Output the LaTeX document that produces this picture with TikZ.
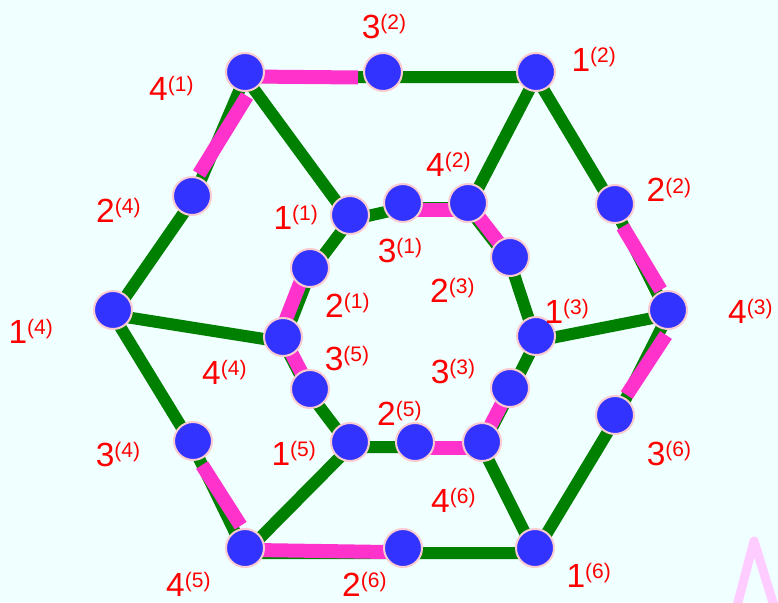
\documentclass[tikz,border=0pt]{standalone}
\usepackage{fontspec}
\setmainfont{Liberation Sans}
\definecolor{bgc}{RGB}{240,255,255}
\definecolor{grc}{RGB}{0,128,0}
\definecolor{mgc}{RGB}{255,51,204}
\definecolor{nbc}{RGB}{51,51,255}
\definecolor{ndc}{RGB}{250,204,210}
\definecolor{lbc}{RGB}{255,0,0}
\definecolor{lpc}{RGB}{255,204,255}
\newcommand{\lbl}[2]{{\fontsize{33.5}{40}\selectfont #1\raisebox{8.5pt}{\fontsize{21}{25}\selectfont(#2)}}}
\begin{document}
\begin{tikzpicture}[x=1pt,y=-1pt,
  vtx/.style={circle,fill=nbc,draw=ndc,line width=2pt,minimum size=38pt,inner sep=0pt},
  gedge/.style={draw=grc,line width=12pt,line join=round},
  medge/.style={draw=mgc,line width=14pt},
  lbltext/.style={text=lbc,anchor=base west,inner sep=0pt}]
\fill[bgc] (0,0) rectangle (778,602);
\useasboundingbox (0,0) rectangle (778,602);

% vertex positions
\coordinate (A) at (245,72);  \coordinate (tm) at (383,72);  \coordinate (B) at (536,72);
\coordinate (urm) at (615,204); \coordinate (C) at (668,310); \coordinate (lrm) at (615,415);
\coordinate (D) at (535,548); \coordinate (bm) at (403,548); \coordinate (E) at (245,548);
\coordinate (llm) at (193,441); \coordinate (F) at (113,310); \coordinate (ulm) at (192,196);
\coordinate (I1) at (350,215); \coordinate (tmi) at (403,203); \coordinate (I2) at (468,203);
\coordinate (iur) at (510,257); \coordinate (I3) at (536,336); \coordinate (irl) at (510,388);
\coordinate (I4) at (482,442); \coordinate (bmi) at (415,442); \coordinate (I5) at (350,442);
\coordinate (ill) at (310,389); \coordinate (I6) at (283,337); \coordinate (iul) at (310,268);

% green edges
\begin{scope}[transform canvas={yshift=-5pt}]
\draw[gedge] (A) -- (tm) -- (B) -- (urm) -- (C) -- (lrm) -- (D) -- (bm) -- (E) -- (llm) -- (F) -- (ulm) -- cycle;
\draw[gedge] (I1) -- (tmi) -- (I2) -- (iur) -- (I3) -- (irl) -- (I4) -- (bmi) -- (I5) -- (ill) -- (I6) -- (iul) -- cycle;
\draw[gedge] (A) -- (I1);
\draw[gedge] (B) -- (I2);
\draw[gedge] (C) -- (I3);
\draw[gedge] (D) -- (I4);
\draw[gedge] (E) -- (I5);
\draw[gedge] (F) -- (I6);
\end{scope}

% magenta overlays
\coordinate (m1a) at (250,76.5);  \coordinate (m1b) at (358,77.5);
\coordinate (m2a) at (247,96);    \coordinate (m2b) at (199,174);
\coordinate (m3a) at (622.7,226.7); \coordinate (m3b) at (660.7,290);
\coordinate (m4a) at (666,335);   \coordinate (m4b) at (626.7,395);
\coordinate (m5a) at (255,550);   \coordinate (m5b) at (388,552);
\coordinate (m6a) at (202,465);   \coordinate (m6b) at (240.7,525.7);
\coordinate (m7a) at (410,210);   \coordinate (m7b) at (460,210);
\coordinate (m10a) at (420,448);  \coordinate (m10b) at (475,448);
\coordinate (m12a) at (279,337);  \coordinate (m12b) at (306,268);
\draw[medge] (m1a) -- (m1b);
\draw[medge] (m2a) -- (m2b);
\draw[medge] (m3a) -- (m3b);
\draw[medge] (m4a) -- (m4b);
\draw[medge] (m5a) -- (m5b);
\draw[medge] (m6a) -- (m6b);
\draw[medge] (m7a) -- (m7b);
\draw[medge] (I2) -- (iur);
\draw[medge] (irl) -- (I4);
\draw[medge] (m10a) -- (m10b);
\draw[medge] (ill) -- (I6);
\draw[medge] (m12a) -- (m12b);

% nodes
\foreach \n in {A,tm,B,urm,C,lrm,D,bm,E,llm,F,ulm,I1,tmi,I2,iur,I3,irl,I4,bmi,I5,ill,I6,iul}
  \node[vtx] (n\n) at (\n) {};

% labels
\node[lbltext] (l32) at (361.6,38) {\lbl{3}{2}};
\node[lbltext] (l41) at (149,100) {\lbl{4}{1}};
\node[lbltext] (l12) at (571.4,71) {\lbl{1}{2}};
\node[lbltext] (l42) at (426,176) {\lbl{4}{2}};
\node[lbltext] (l22) at (646.5,201.5) {\lbl{2}{2}};
\node[lbltext] (l24) at (96,222) {\lbl{2}{4}};
\node[lbltext] (l14) at (8.4,343) {\lbl{1}{4}};
\node[lbltext] (l44) at (202,384) {\lbl{4}{4}};
\node[lbltext] (l13) at (544.4,323) {\lbl{1}{3}};
\node[lbltext] (l43) at (728,323) {\lbl{4}{3}};
\node[lbltext] (l34) at (95.6,466) {\lbl{3}{4}};
\node[lbltext] (l15) at (271.4,465) {\lbl{1}{5}};
\node[lbltext] (l25) at (377,425) {\lbl{2}{5}};
\node[lbltext] (l45) at (166,596) {\lbl{4}{5}};
\node[lbltext] (l26) at (342,596) {\lbl{2}{6}};
\node[lbltext] (l46) at (431,512) {\lbl{4}{6}};
\node[lbltext] (l16) at (566.4,587) {\lbl{1}{6}};
\node[lbltext] (l36) at (646.6,465) {\lbl{3}{6}};
\node[lbltext] (l11) at (273.4,229) {\lbl{1}{1}};
\node[lbltext] (l31) at (377.6,262) {\lbl{3}{1}};
\node[lbltext] (l21) at (325,317) {\lbl{2}{1}};
\node[lbltext] (l23) at (430,302) {\lbl{2}{3}};
\node[lbltext] (l35) at (324.6,370) {\lbl{3}{5}};
\node[lbltext] (l33) at (430.6,383) {\lbl{3}{3}};

% pale pink mark at bottom right
\begin{scope}
\clip (0,0) rectangle (778,602);
\draw[lpc,line width=9pt,line join=round] (737,606) -- (754,541) -- (774,606);
\end{scope}
\end{tikzpicture}
\end{document}
